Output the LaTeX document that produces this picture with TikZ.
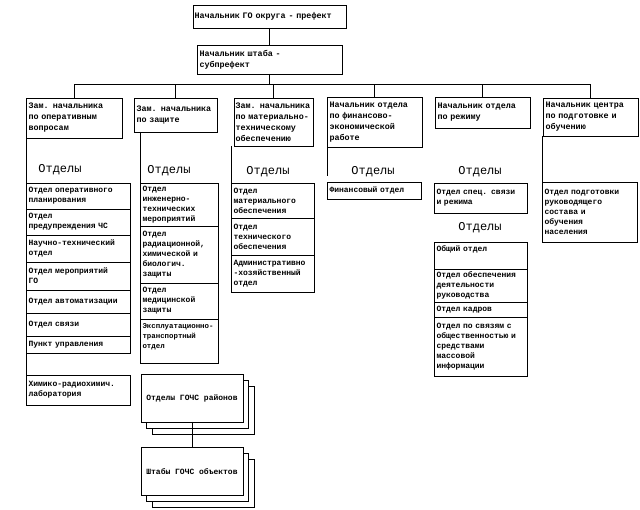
\documentclass[tikz,border=0pt]{standalone}
\usepackage{fontspec}
\newfontfamily\monofam{Liberation Mono}
\usetikzlibrary{positioning,shadows}

\newcommand{\headfont}{\monofam\bfseries\fontsize{8.4}{11}\selectfont}
\newcommand{\cellfont}{\monofam\bfseries\fontsize{8}{10}\selectfont}
\newcommand{\grpfont}{\monofam\fontsize{12}{14}\selectfont}

\begin{document}
\begin{tikzpicture}[x=1pt,y=-1pt,
  line width=0.8pt,
  every node/.style={outer sep=0pt},
  headstyle/.style={
    rectangle,
    draw=black,
    fill=white,
    inner xsep=2.5pt,
    inner ysep=2pt,
    align=left,
    font=\headfont,
  },
  cellstyle/.style={headstyle, font=\cellfont},
  grpstyle/.style={font=\grpfont, inner sep=0pt},
  stackstyle/.style={
    rectangle,
    draw=black,
    fill=white,
    minimum width=102pt,
    minimum height=48pt,
    font=\cellfont,
    copy shadow={shadow xshift=11pt,shadow yshift=-12pt,draw=black,fill=white},
    copy shadow={shadow xshift=5.5pt,shadow yshift=-6pt,draw=black,fill=white},
  }]
\useasboundingbox (0,0) rectangle (640,510);

% top of the chart
\node[headstyle, text width=150pt, inner xsep=1.5pt, minimum height=23pt, anchor=north west] (prefect) at (193,5) {Начальник ГО округа - префект};
\node[headstyle, text width=140pt, minimum height=29pt] (subprefect) [below=17pt of prefect] {Начальник штаба -\\субпрефект};

% heads of the six branches
\node[headstyle, text width=91pt, minimum height=40pt, anchor=north west] (deputyOps) at (26,98) {Зам. начальника\\по оперативным\\вопросам};
\node[headstyle, text width=78pt, minimum height=34pt, anchor=north west] (deputyDef) at (134,98) {Зам. начальника\\по защите};
\node[headstyle, text width=76pt, inner xsep=1.5pt, minimum height=48pt, anchor=north west] (deputyLog) at (234,98) {Зам. начальника\\\mbox{по материально-}\\техническому\\обеспечению};
\node[headstyle, text width=90pt, minimum height=50pt, anchor=north west] (headFin) at (327,97) {Начальник отдела\\по финансово-\\экономической\\работе};
\node[headstyle, text width=90pt, minimum height=31pt, anchor=north west] (headReg) at (435,97) {Начальник отдела\\по режиму};
\node[headstyle, text width=90pt, minimum height=38pt, anchor=north west] (headEdu) at (543,98) {Начальник центра\\по подготовке и\\обучению};

\coordinate (bar) at (269.5,84);
\draw (prefect) -- (subprefect);
\draw (subprefect) -- (bar);
\foreach \n in {deputyOps,deputyDef,deputyLog,headFin,headReg,headEdu}
  \draw (bar) -| (\n);

% group labels
\node[grpstyle] (grpOps) at (60,170) {Отделы};
\node[grpstyle] (grpDef) at (169,171) {Отделы};
\node[grpstyle] (grpLog) at (268,172) {Отделы};
\node[grpstyle] (grpFin) at (373,172) {Отделы};
\node[grpstyle] (grpReg) at (480,172) {Отделы};
\node[grpstyle] (grpAdm) at (480,228) {Отделы};

% operations
\node[cellstyle, text width=99pt, minimum height=26pt, anchor=north west] (ops1) at (26,183) {Отдел оперативного\\планирования};
\node[cellstyle, text width=99pt, minimum height=26pt] (ops2) [below=0pt of ops1] {Отдел\\предупреждения ЧС};
\node[cellstyle, text width=99pt, minimum height=27pt] (ops3) [below=0pt of ops2] {Научно-технический\\отдел};
\node[cellstyle, text width=99pt, minimum height=28pt] (ops4) [below=0pt of ops3] {Отдел мероприятий\\ГО};
\node[cellstyle, text width=99pt, minimum height=23pt] (ops5) [below=0pt of ops4] {Отдел автоматизации};
\node[cellstyle, text width=99pt, minimum height=23pt] (ops6) [below=0pt of ops5] {Отдел связи};
\node[cellstyle, text width=99pt, minimum height=17pt] (ops7) [below=0pt of ops6] {Пункт управления};
\node[cellstyle, text width=99pt, minimum height=30pt, anchor=north west] (lab) at (26,375) {Химико-радиохимич.\\лаборатория};

% defence
\node[cellstyle, text width=73pt, minimum height=43pt, anchor=north west] (def1) at (140,183) {Отдел\\инженерно-\\технических\\мероприятий};
\node[cellstyle, text width=73pt, minimum height=57pt] (def2) [below=0pt of def1] {Отдел\\радиационной,\\химической и\\биологич.\\защиты};
\node[cellstyle, text width=73pt, minimum height=36pt] (def3) [below=0pt of def2] {Отдел\\медицинской\\защиты};
\node[cellstyle, font=\monofam\bfseries\fontsize{7.4}{10}\selectfont, text width=73pt, minimum height=44pt, text depth=30pt] (def4) [below=0pt of def3] {\mbox{Эксплуатационно-}\\транспортный\\отдел};

% logistics
\node[cellstyle, text width=78pt, minimum height=35pt, anchor=north west] (log1) at (231,183) {Отдел\\материального\\обеспечения};
\node[cellstyle, text width=78pt, minimum height=37pt] (log2) [below=0pt of log1] {Отдел\\технического\\обеспечения};
\node[cellstyle, text width=78pt, minimum height=37pt] (log3) [below=0pt of log2] {Административно\\-хозяйственный\\отдел};

% finance
\node[cellstyle, text width=89pt, minimum height=17pt, anchor=north west] (fin1) at (327,182) {Финансовый отдел};

% regime
\node[cellstyle, text width=88pt, minimum height=30pt, anchor=north west] (reg1) at (434,183) {Отдел спец. связи\\и режима};
\node[cellstyle, text width=88pt, minimum height=27pt, text depth=13pt, anchor=north west] (adm1) at (434,242) {Общий отдел};
\node[cellstyle, text width=88pt, minimum height=33pt] (adm2) [below=0pt of adm1] {Отдел обеспечения\\деятельности\\руководства};
\node[cellstyle, text width=88pt, minimum height=15pt] (adm3) [below=0pt of adm2] {Отдел кадров};
\node[cellstyle, text width=88pt, minimum height=59pt] (adm4) [below=0pt of adm3] {Отдел по связям с\\общественностью и\\средствами\\массовой\\информации};

% training
\node[cellstyle, text width=90pt, minimum height=60pt, anchor=north west] (edu1) at (542,182) {Отдел подготовки\\руководящего\\состава и\\обучения\\населения};

\coordinate (finEnd) at (327,176);
\draw (deputyOps.south west) -- (lab.south west);
\draw (def1.north west |- deputyDef.south) -- (def1.north west);
\draw (log1.north west |- deputyLog.south) -- (log1.north west);
\draw (headFin.south west) -- (finEnd);
\draw (edu1.north west |- headEdu.south) -- (edu1.north west);

% district and object staffs
\node[stackstyle] (ochsDist) at (192,398) {Отделы ГОЧС районов};
\node[stackstyle] (ochsObj) at (192,471.5) {Штабы ГОЧС объектов};
\draw (ochsDist) -- (ochsObj);
\end{tikzpicture}
\end{document}
